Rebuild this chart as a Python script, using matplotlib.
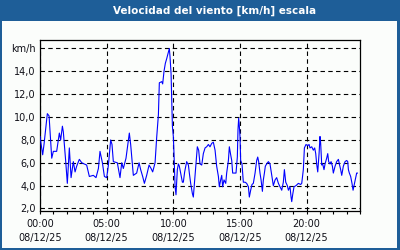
import matplotlib
matplotlib.use('Agg')
import matplotlib.pyplot as plt
from matplotlib.patches import Rectangle
from matplotlib.ticker import MultipleLocator, FixedLocator

# datos: hora del dia y velocidad del viento (km/h)
horas = [0.0, 0.2, 0.3, 0.55, 0.62, 0.68, 0.88, 1.0, 1.25, 1.38, 1.45, 1.55, 1.68, 1.75,
         1.93, 2.05, 2.2, 2.33, 2.5, 2.63, 2.75, 2.95, 3.13, 3.5, 3.7, 4.0, 4.2, 4.38,
         4.5, 4.68, 4.83, 5.0, 5.13, 5.3, 5.4, 5.5, 5.8, 6.0, 6.13, 6.25, 6.45, 6.55,
         6.7, 6.8, 7.0, 7.25, 7.43, 7.55, 7.7, 7.83, 8.0, 8.18, 8.33, 8.45, 8.63, 8.75,
         8.88, 8.95, 9.13, 9.2, 9.3, 9.4, 9.5, 9.63, 9.7, 9.75, 9.83, 9.88, 9.93, 10.0,
         10.05, 10.13, 10.2, 10.3, 10.38, 10.45, 10.55, 10.68, 10.75, 10.85, 11.0, 11.13,
         11.2, 11.3, 11.43, 11.5, 11.58, 11.68, 11.8, 11.9, 12.0, 12.13, 12.25, 12.38,
         12.5, 12.63, 12.75, 12.88, 13.0, 13.13, 13.25, 13.38, 13.45, 13.55, 13.63, 13.7,
         13.8, 13.93, 14.0, 14.13, 14.2, 14.3, 14.38, 14.45, 14.55, 14.7, 14.8, 14.85,
         14.9, 14.95, 15.0, 15.05, 15.15, 15.25, 15.38, 15.5, 15.63, 15.7, 15.8, 15.9,
         16.0, 16.13, 16.25, 16.33, 16.4, 16.5, 16.58, 16.68, 16.75, 16.83, 16.9, 17.0,
         17.13, 17.25, 17.38, 17.5, 17.63, 17.75, 17.88, 18.0, 18.13, 18.25, 18.33, 18.43,
         18.55, 18.63, 18.75, 18.83, 18.88, 18.95, 19.05, 19.2, 19.38, 19.55, 19.63, 19.75,
         19.83, 19.95, 20.08, 20.18, 20.25, 20.38, 20.5, 20.6, 20.68, 20.75, 20.83, 20.93,
         21.0, 21.05, 21.13, 21.2, 21.3, 21.38, 21.5, 21.58, 21.65, 21.75, 21.83, 21.93,
         22.0, 22.13, 22.25, 22.38, 22.45, 22.55, 22.63, 22.75, 22.88, 23.0, 23.08, 23.13,
         23.2, 23.3, 23.4, 23.48, 23.55, 23.65, 23.75, 23.8]
viento = [8.3, 6.7, 7.6, 10.3, 10.2, 10.1, 6.4, 7.0, 7.0, 8.0, 8.6, 8.0, 9.2, 8.7,
          6.1, 4.2, 7.3, 4.7, 6.1, 5.2, 5.7, 6.3, 6.0, 5.8, 4.8, 4.9, 4.7, 5.5,
          7.0, 6.0, 4.8, 4.7, 5.8, 8.0, 7.6, 6.1, 6.0, 4.7, 6.0, 5.5, 6.4, 7.3,
          8.6, 7.6, 4.9, 5.1, 6.0, 5.4, 4.8, 4.2, 4.9, 5.8, 5.5, 5.2, 6.0, 8.2,
          10.2, 13.0, 13.1, 12.9, 14.0, 14.7, 15.1, 15.7, 16.0, 15.3, 13.8, 11.6, 9.2, 8.3,
          6.8, 3.9, 3.2, 5.4, 5.9, 5.7, 5.1, 4.3, 4.3, 5.2, 6.1, 5.8,
          5.1, 4.2, 3.3, 3.0, 4.2, 5.7, 7.4, 7.1, 5.9, 5.8, 6.8, 7.3,
          7.4, 7.6, 7.4, 7.7, 7.8, 7.1, 5.7, 4.8, 3.9, 4.5, 4.9, 3.9,
          4.5, 4.2, 5.1, 6.2, 7.4, 6.7, 6.2, 5.1, 5.1, 5.1, 6.5, 8.9,
          9.9, 9.2, 8.3, 6.2, 5.9, 4.3, 4.3, 4.2, 3.9, 3.0, 3.6, 4.1,
          4.2, 5.1, 6.2, 6.5, 6.1, 5.1, 4.5, 3.5, 4.5, 5.1, 5.7, 5.9,
          6.1, 5.9, 4.9, 4.0, 4.5, 4.7, 4.2, 3.9, 3.6, 4.3, 5.4, 4.3,
          4.0, 3.6, 3.9, 3.0, 2.6, 3.2, 3.9, 4.0, 4.2, 4.1, 4.2, 5.4,
          7.3, 7.6, 7.5, 7.6, 7.3, 7.4, 7.1, 7.3, 6.8, 5.9, 5.2, 6.8,
          8.3, 7.7, 5.8, 5.9, 5.4, 5.9, 6.4, 6.8, 6.1, 5.9, 6.1, 5.7,
          5.1, 5.7, 6.1, 6.3, 5.9, 5.4, 4.9, 5.7, 6.1, 6.2, 6.1, 5.4,
          5.1, 4.8, 4.2, 3.6, 4.0, 4.6, 5.1, 5.1]

x_ticks = [0, 5, 10, 15, 20]
x_labels = ['00:00\n08/12/25', '05:00\n08/12/25', '10:00\n08/12/25',
            '15:00\n08/12/25', '20:00\n08/12/25']
y_ticks = [2, 4, 6, 8, 10, 12, 14, 16]
y_labels = ['2,0', '4,0', '6,0', '8,0', '10,0', '12,0', '14,0', 'km/h']

azul = '#1e5e98'
fondo = '#fbfdfb'
texto = '#101018'

fig = plt.figure(figsize=(4, 2.5), dpi=100, facecolor=azul)
# panel blanco dentro del marco azul
fig.patches.append(Rectangle((2 / 400, 2 / 250), 395 / 400, 227 / 250,
                             transform=fig.transFigure, facecolor=fondo,
                             edgecolor='none', zorder=-1))
fig.text(215 / 400, 1 - 10.5 / 250, 'Velocidad del viento [km/h] escala',
         color='white', fontsize=7.5, fontweight='bold', ha='center', va='center')

ax = fig.add_axes([40 / 400, 39 / 250, 320 / 400, 170.5 / 250], zorder=2)
ax.set_facecolor(fondo)
ax.plot(horas, viento, color='#0000ff', lw=0.8, zorder=3)

ax.set_xlim(0, 24)
ax.set_ylim(1.78, 16.7)
ax.xaxis.set_major_locator(FixedLocator(x_ticks))
ax.xaxis.set_minor_locator(MultipleLocator(1))
ax.set_xticks(x_ticks)
ax.set_xticklabels(x_labels, linespacing=1.5)
ax.set_yticks(y_ticks)
ax.set_yticklabels(y_labels)

ax.tick_params(axis='x', which='both', direction='out', length=2.5, width=0.8,
               color='black', labelsize=7, labelcolor=texto, pad=3)
ax.tick_params(axis='y', length=0, labelsize=7, labelcolor=texto, pad=3)

ax.grid(True, which='major', color='black', lw=0.8, linestyle=(0, (4, 3)))
for s in ax.spines.values():
    s.set_color('black')
    s.set_linewidth(0.9)

plt.savefig('out.png', dpi=100, facecolor=azul)
